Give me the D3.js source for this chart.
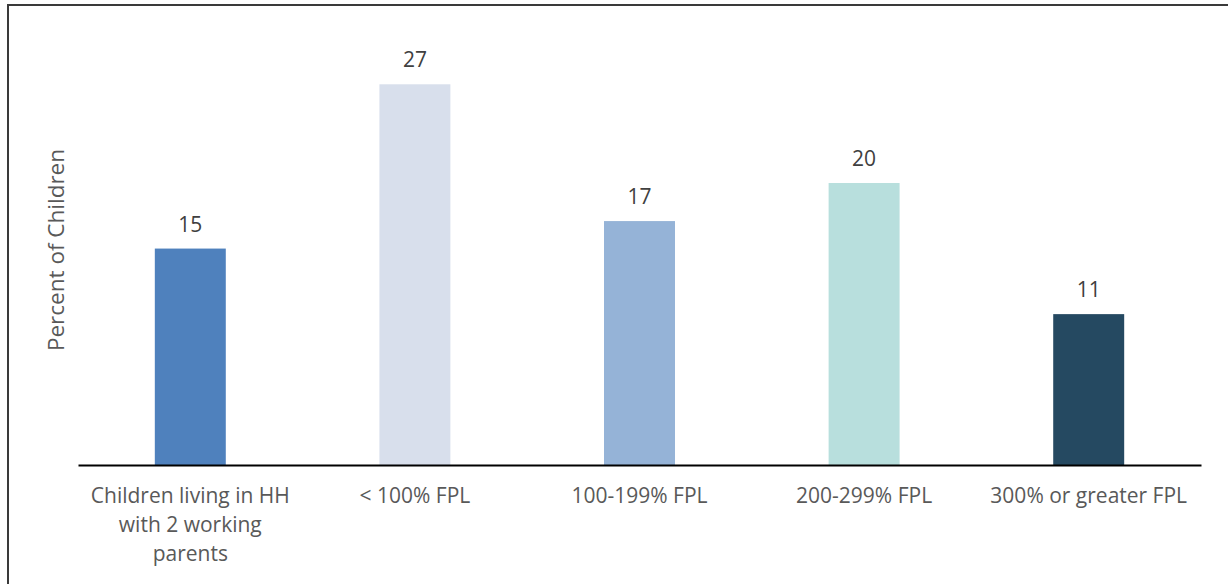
<!DOCTYPE html>
<html lang="en">
<head>
    <meta charset="UTF-8">
    <title>Percent of Children</title>
    <script src="https://cdn.jsdelivr.net/npm/d3@7"></script>
    <style>
        body { margin: 0; background: #fff; }
        svg { display: block; font-family: "Open Sans", sans-serif; }
    </style>
</head>
<body>
    <script>
        'use strict';
        // data (labels are rounded in the chart)
        var categories = ['Children living in HH with 2 working parents', '< 100% FPL', '100-199% FPL', '200-299% FPL', '300% or greater FPL'];
        var values = [15.35, 27.0, 17.3, 20.0, 10.7];
        var colors = ['#4F81BD', '#D8DFEC', '#95B3D7', '#B8DFDD', '#254961'];
        var yTitle = 'Percent of Children';

        var w = 1228,
            h = 584;

        var svg = d3.select('body')
            .append('svg')
            .attr('width', w)
            .attr('height', h);

        // outer frame (runs off the right / bottom edge)
        svg.append('rect')
            .attr('x', 8)
            .attr('y', 5)
            .attr('width', 1400)
            .attr('height', 800)
            .attr('fill', 'none')
            .attr('stroke', '#3a3a3a')
            .attr('stroke-width', 2);

        var x = d3.scaleBand()
            .domain(categories)
            .range([78, 1201])
            .paddingInner(0.684)
            .paddingOuter(0.342);

        var y = d3.scaleLinear()
            .domain([0, 30])
            .range([465, 42]);

        var fmt = d3.format('.0f');

        svg.selectAll('rect.bar')
            .data(values)
            .enter()
            .append('rect')
            .attr('class', 'bar')
            .attr('x', (d, i) => x(categories[i]))
            .attr('y', d => y(d))
            .attr('width', x.bandwidth())
            .attr('height', d => y(0) - y(d))
            .attr('fill', (d, i) => colors[i]);

        svg.selectAll('text.val')
            .data(values)
            .enter()
            .append('text')
            .attr('class', 'val')
            .attr('x', (d, i) => x(categories[i]) + x.bandwidth() / 2)
            .attr('y', d => y(d) - 17)
            .attr('text-anchor', 'middle')
            .attr('font-size', '21px')
            .attr('fill', '#404040')
            .text(d => fmt(d));

        // x axis line only, labels drawn by the axis and wrapped
        var xAxis = svg.append('g')
            .attr('transform', 'translate(0,' + y(0) + ')')
            .call(d3.axisBottom(x).tickSize(0).tickSizeOuter(0).tickPadding(38));

        xAxis.select('.domain')
            .attr('stroke', '#000')
            .attr('stroke-width', 2);

        xAxis.selectAll('text')
            .attr('font-family', '"Open Sans", sans-serif')
            .attr('font-size', '21px')
            .attr('fill', '#595959')
            .attr('dy', 0)
            .call(wrap, 210);

        function wrap(sel, width) {
            sel.each(function() {
                var text = d3.select(this),
                    words = text.text().split(/\s+/),
                    line = [],
                    lineNo = 0,
                    yy = text.attr('y'),
                    tspan = text.text(null).append('tspan').attr('x', 0).attr('y', yy);
                words.forEach(word => {
                    line.push(word);
                    tspan.text(line.join(' '));
                    if (tspan.node().getComputedTextLength() > width && line.length > 1) {
                        line.pop();
                        tspan.text(line.join(' '));
                        line = [word];
                        lineNo++;
                        tspan = text.append('tspan').attr('x', 0).attr('y', yy)
                            .attr('dy', (lineNo * 29) + 'px').text(word);
                    }
                });
            });
        }

        svg.append('text')
            .attr('transform', 'translate(64,250) rotate(-90)')
            .attr('text-anchor', 'middle')
            .attr('font-size', '22.5px')
            .attr('fill', '#595959')
            .text(yTitle);
    </script>
</body>
</html>
